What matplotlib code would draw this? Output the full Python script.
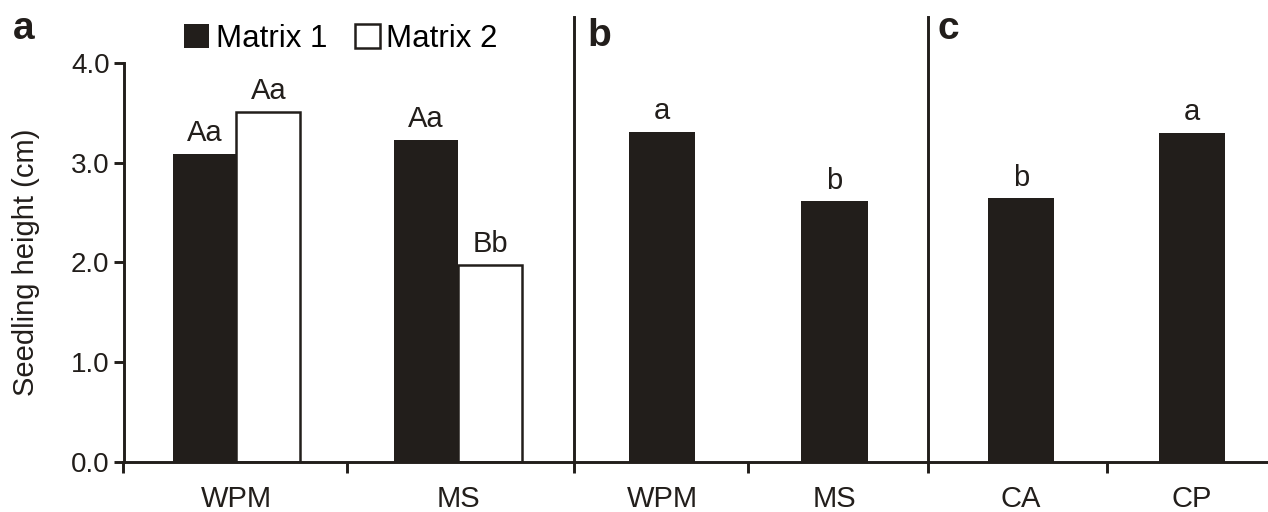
import matplotlib.pyplot as plt
from matplotlib.patches import Patch
from matplotlib.lines import Line2D
import numpy as np

plt.rcParams['font.family'] = ['Liberation Sans', 'DejaVu Sans']

# data
groups_a = ['WPM', 'MS']
matrix1 = [3.09, 3.23]
matrix2 = [3.51, 1.97]
letters_m1 = ['Aa', 'Aa']
letters_m2 = ['Aa', 'Bb']

cats_b = ['WPM', 'MS']
vals_b = [3.31, 2.61]
letters_b = ['a', 'b']

cats_c = ['CA', 'CP']
vals_c = [2.64, 3.30]
letters_c = ['b', 'a']

dark = '#221e1b'
W, H = 1268, 512
fig = plt.figure(figsize=(W / 100, H / 100), dpi=100)

bottom = 1 - 461.5 / H
height = (461.5 - 63) / H
edges = [123.5, 573.5, 928, 1268]
axes = []
for i in range(3):
    ax = fig.add_axes([edges[i] / W, bottom, (edges[i + 1] - edges[i]) / W, height])
    axes.append(ax)
ax_a, ax_b, ax_c = axes

lw = 2.1


def style(ax, labels, xlim):
    ax.set_xlim(*xlim)
    ax.set_ylim(0, 4.0)
    for s in ['top', 'right', 'left']:
        ax.spines[s].set_visible(False)
    ax.spines['bottom'].set_linewidth(lw)
    ax.spines['bottom'].set_color(dark)
    ax.set_xticks(range(len(labels)))
    ax.set_xticklabels(labels, fontsize=21, color=dark)
    ax.tick_params(axis='x', which='major', length=0, pad=17)
    ax.set_xticks([xlim[0], 0.5], minor=True)
    ax.tick_params(axis='x', which='minor', length=8, width=lw, color=dark,
                   direction='out')
    ax.set_yticks([])


def put_letters(ax, xs, ys, txt):
    for x, y, t in zip(xs, ys, txt):
        ax.annotate(t, (x, y), xytext=(0, 5), textcoords='offset points',
                    ha='center', va='bottom', fontsize=21, color=dark)


# panel a
xa = np.arange(len(groups_a))
bw_a = 0.288
style(ax_a, groups_a, (-0.509, 1.52))
ax_a.bar(xa - bw_a / 2, matrix1, bw_a, color=dark, edgecolor=dark, linewidth=0)
ax_a.bar(xa + bw_a / 2, matrix2, bw_a, color='white', edgecolor=dark, linewidth=1.8)
put_letters(ax_a, xa - bw_a / 2, matrix1, letters_m1)
put_letters(ax_a, xa + bw_a / 2, matrix2, letters_m2)
ax_a.spines['left'].set_visible(True)
ax_a.spines['left'].set_linewidth(lw)
ax_a.spines['left'].set_color(dark)
ax_a.set_yticks(np.arange(0, 4.01, 1.0))
ax_a.set_yticklabels(['%.1f' % v for v in np.arange(0, 4.01, 1.0)], fontsize=20, color=dark)
ax_a.tick_params(axis='y', length=7, width=lw, color=dark, pad=3)
ax_a.set_ylabel('Seedling height (cm)', fontsize=21, color=dark, labelpad=22)

# panel b
xb = np.arange(len(cats_b))
bw_b = 0.383
style(ax_b, cats_b, (-0.513, 1.542))
ax_b.bar(xb, vals_b, bw_b, color=dark, linewidth=0)
put_letters(ax_b, xb, vals_b, letters_b)

# panel c
xc = np.arange(len(cats_c))
bw_c = 0.386
style(ax_c, cats_c, (-0.544, 1.444))
ax_c.bar(xc, vals_c, bw_c, color=dark, linewidth=0)
put_letters(ax_c, xc, vals_c, letters_c)

# divider lines between panels
for xe in edges[1:3]:
    fig.add_artist(Line2D([xe / W, xe / W], [1 - 17 / H, bottom], color=dark,
                          linewidth=lw, transform=fig.transFigure))

# panel letters
for lab, xp, yb in zip(['a', 'b', 'c'], [13, 587, 938], [39, 46, 39]):
    fig.text(xp / W, 1 - yb / H, lab, fontsize=28, fontweight='bold',
             color=dark, ha='left', va='baseline')

# legend
handles = [Patch(facecolor=dark, edgecolor=dark, linewidth=0),
           Patch(facecolor='white', edgecolor=dark, linewidth=1.8)]
fig.legend(handles, ['Matrix 1', 'Matrix 2'], loc='center',
           bbox_to_anchor=(341 / W, 1 - 39 / H), bbox_transform=fig.transFigure,
           ncol=2, frameon=False, fontsize=22.5, handlelength=0.8, handleheight=0.8,
           handletextpad=0.2, columnspacing=0.9, borderaxespad=0, borderpad=0)

fig.savefig('out.png', dpi=100)
